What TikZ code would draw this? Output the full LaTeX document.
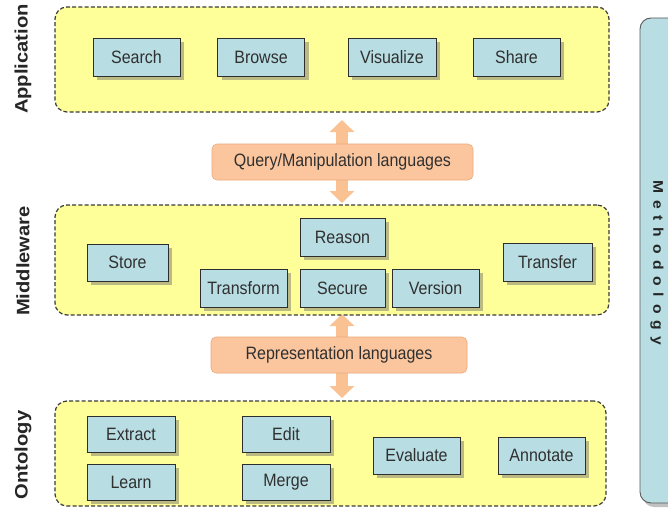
\documentclass[tikz,border=0pt]{standalone}
\usepackage{fontspec}
\setmainfont{Liberation Sans}
\usetikzlibrary{arrows.meta,shadows}

\definecolor{bandyellow}{HTML}{FFFF99}
\definecolor{bandline}{HTML}{3A3A3A}
\definecolor{boxblue}{HTML}{B8DDE3}
\definecolor{boxline}{HTML}{2E2E2E}
\definecolor{txt}{HTML}{303030}
\definecolor{langfill}{HTML}{FBC69E}
\definecolor{langline}{HTML}{EDA977}
\definecolor{arrowfill}{HTML}{FAC192}

% slightly tall lettering, as in the original slide
\newcommand{\tall}[1]{\scalebox{1}[1.12]{#1}}
\newcommand{\longer}[1]{\scalebox{1.12}[1]{#1}}
\newcommand{\ls}{\kern6pt}

\tikzset{
  band/.style={draw=bandline, dash pattern=on 4pt off 2.2pt, line width=1.2pt,
    fill=bandyellow, rounded corners=12pt, inner sep=0pt},
  func/.style={draw=boxline, line width=0.9pt, fill=boxblue,
    minimum width=87pt, minimum height=38pt, inner sep=0pt,
    font=\fontsize{16}{18}\selectfont, text=txt,
    drop shadow={shadow xshift=4pt, shadow yshift=-4pt, fill=black!60, opacity=0.45}},
  langbox/.style={draw=langline, line width=0.6pt, fill=langfill,
    rounded corners=5pt, inner sep=0pt,
    font=\fontsize{16}{18}\selectfont, text=txt},
  flow/.style={draw=arrowfill, line width=12pt,
    {Triangle[width=24pt,length=12pt,fill=arrowfill]}-{Triangle[width=24pt,length=12pt,fill=arrowfill]}},
  layer/.style={rotate=90, font=\bfseries\fontsize{18}{20}\selectfont, text=black!85},
}

\begin{document}
\begin{tikzpicture}[x=1pt, y=-1pt]
\clip (0,0) rectangle (668,508);
\fill[white] (0,0) rectangle (668,508);

% methodology bar running along the right side
\node[draw=black!65, line width=0.9pt, fill=boxblue, rounded corners=11pt,
  minimum width=40pt, minimum height=485pt, inner sep=0pt,
  drop shadow={shadow xshift=3pt, shadow yshift=-4pt, fill=black!60, opacity=0.4}]
  (method) at (660,260.5) {};
\node[rotate=-90, font=\bfseries\fontsize{14}{16}\selectfont, text=black!85] (methodtext) at (657,263)
  {\longer{M\ls e\ls t\ls h\ls o\ls d\ls o\ls l\ls o\ls g\ls y}};

% ends of the arrows between the layers
\coordinate (qtop) at (342,120);
\coordinate (qbot) at (342,203);
\coordinate (rtop) at (342,314);
\coordinate (rbot) at (342,398);

% arrows between the layers (drawn first, behind the language boxes)
\draw[flow] (qtop) -- (qbot);
\draw[flow] (rtop) -- (rbot);

% layer bands
\node[band, minimum width=554pt, minimum height=105pt] (app) at (332,59.5) {};
\node[band, minimum width=554pt, minimum height=110pt] (mid) at (332,260) {};
\node[band, minimum width=551pt, minimum height=105pt] (ont) at (330.5,453.5) {};

% layer names
\node[layer] (applabel) at (23,59) {\longer{Application}};
\node[layer] (midlabel) at (23,261) {\longer{Middleware}};
\node[layer] (ontlabel) at (23,455) {\longer{Ontology}};

% language boxes
\node[langbox, minimum width=261pt, minimum height=36pt] (query) at (342.5,162)
  {\tall{Query/Manipulation languages}};
\node[langbox, minimum width=256pt, minimum height=36pt] (repr) at (339,355)
  {\tall{Representation languages}};

% application functions
\node[func] (search) at (136.5,57.5) {\tall{Search}};
\node[func] (browse) at (261,57.5) {\tall{Browse}};
\node[func, minimum width=88pt] (visualize) at (392,57.5) {\tall{Visualize}};
\node[func] (share) at (516.5,57.5) {\tall{Share}};

% middleware functions
\node[func, minimum width=81pt, minimum height=37pt] (store) at (127.5,262.5) {\tall{Store}};
\node[func] (transform) at (243.5,288) {\tall{Transform}};
\node[func, minimum width=85pt] (reason) at (342.5,237) {\tall{Reason}};
\node[func, minimum width=85pt] (secure) at (342.5,288) {\tall{Secure}};
\node[func] (version) at (435.5,288) {\tall{Version}};
\node[func, minimum width=89pt] (transfer) at (547.5,262) {\tall{Transfer}};

% ontology functions
\node[func, minimum width=88pt, minimum height=36pt] (extract) at (131,434) {\tall{Extract}};
\node[func, minimum width=88pt, minimum height=36pt] (learn) at (131,482) {\tall{Learn}};
\node[func, minimum width=88pt, minimum height=36pt] (edit) at (286,434) {\tall{Edit}};
\node[func, minimum width=88pt, minimum height=36pt] (merge) at (286,482) {\tall{Merge}};
\node[func, minimum height=37pt] (evaluate) at (416.5,455.5) {\tall{Evaluate}};
\node[func, minimum height=37pt] (annotate) at (541.5,455.5) {\tall{Annotate}};
\end{tikzpicture}
\end{document}
